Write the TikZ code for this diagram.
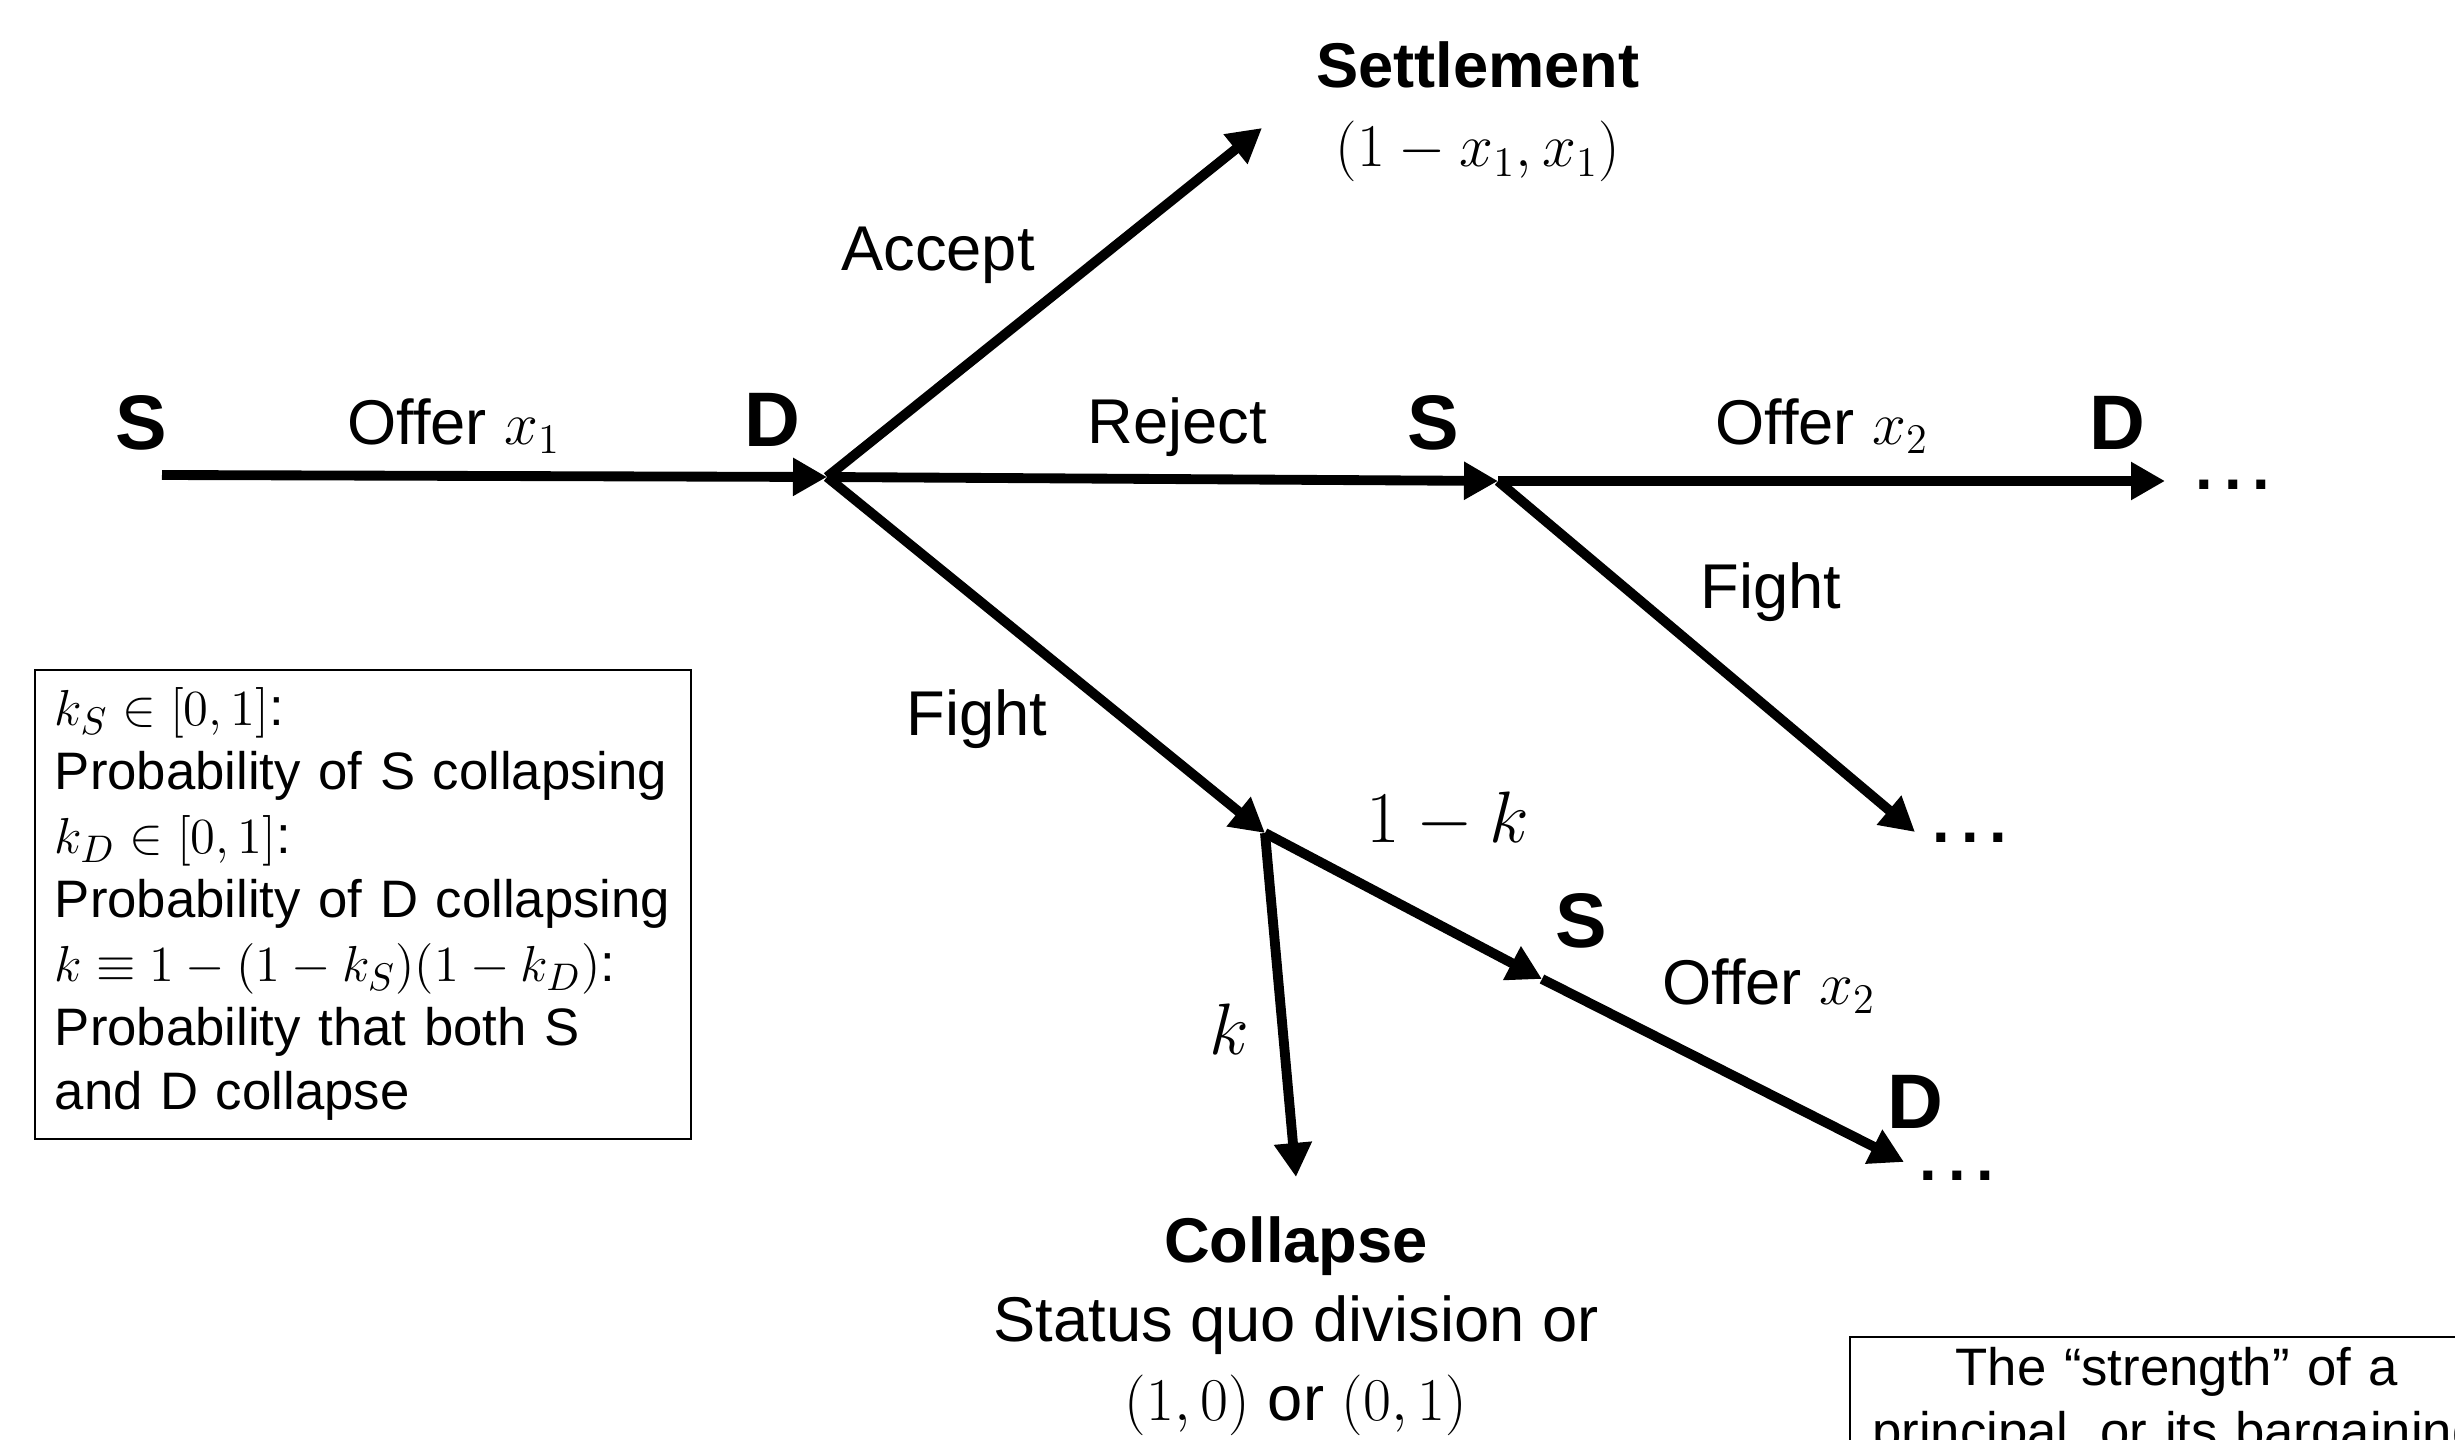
\documentclass[tikz,border=0pt]{standalone}
\usepackage{fontspec}
\setmainfont{Liberation Sans}
\usetikzlibrary{arrows.meta, positioning}

\newcommand{\moredots}{\textbf{.\kern0.17em.\kern0.17em.}}

\begin{document}
\begin{tikzpicture}[
    move/.style={line width=2.8pt, -{Triangle[length=0.34cm, width=0.36cm]}},
    player/.style={font=\fontsize{22}{26}\selectfont\bfseries},
    lab/.style={font=\fontsize{18}{22}\selectfont},
    prob/.style={font=\fontsize{22}{26}\selectfont},
    outcome/.style={font=\fontsize{18}{22.5}\selectfont, align=center},
    note/.style={draw, line width=0.5pt, font=\fontsize{15}{18.2}\selectfont, inner xsep=0.2cm, inner ysep=0.1cm}]
  \path[use as bounding box, clip] (0,0) rectangle (24.55,14.39);
  \coordinate (s1) at (1.62,9.64);
  \coordinate (d1) at (8.27,9.62);
  \coordinate (set) at (12.62,13.11);
  \coordinate (s2) at (14.98,9.58);
  \coordinate (d2) at (21.65,9.58);
  \coordinate (f2) at (19.15,6.07);
  \coordinate (c) at (12.65,6.06);
  \coordinate (col) at (12.96,2.62);
  \coordinate (s3) at (15.42,4.60);
  \coordinate (d3) at (19.04,2.77);
  \foreach \from/\to in {s1/d1, d1/set, d1/s2, s2/d2, s2/f2, d1/c, c/col, c/s3, s3/d3}{
    \draw[move] (\from) -- (\to);
  };
  \node[player] (ls1) at (1.41,10.16) {S};
  \node[lab] (lo1) at (4.54,10.13) {Offer $x_1$};
  \node[player] (ld1) at (7.72,10.19) {D};
  \node[lab] (lacc) at (9.38,11.84) {Accept};
  \node[outcome] (lset) at (14.78,13.27) {\textbf{Settlement}\\$(1-x_1,x_1)$};
  \node[lab] (lrej) at (11.77,10.12) {Reject};
  \node[player] (ls2) at (14.33,10.16) {S};
  \node[lab] (lo2) at (18.22,10.13) {Offer $x_2$};
  \node[player] (ld2) at (21.17,10.16) {D};
  \node[lab] (dots1) at (22.33,9.54) {\moredots};
  \node[lab] (lf2) at (17.71,8.47) {Fight};
  \node[lab] (dots2) at (19.70,6.01) {\moredots};
  \node[lab] (lf1) at (9.77,7.20) {Fight};
  \node[prob] (lnk) at (14.48,6.19) {$1-k$};
  \node[player] (ls3) at (15.81,5.18) {S};
  \node[lab] (lo3) at (17.69,4.53) {Offer $x_2$};
  \node[player] (ld3) at (19.15,3.37) {D};
  \node[lab] (dots3) at (19.57,2.63) {\moredots};
  \node[prob] (lk) at (12.29,4.10) {$k$};
  \node[outcome] (lcol) at (12.96,1.13) {\textbf{Collapse}\\Status quo division or\\$(1,0)$ or $(0,1)$};
  \node[note, anchor=north west, text width=6.16cm, minimum height=4.69cm, align=left] (kbox) at (0.34,7.70)
    {$k_S\in[0,1]$:\\Probability of S collapsing\\$k_D\in[0,1]$:\\Probability of D collapsing\\$k\equiv1-(1-k_S)(1-k_D)$:\\Probability that both S\\and D collapse};
  \node[note, anchor=north west, text width=6.14cm, align=center] (sbox) at (18.49,1.03)
    {The “strength” of a\\principal, or its bargaining};
\end{tikzpicture}
\end{document}
